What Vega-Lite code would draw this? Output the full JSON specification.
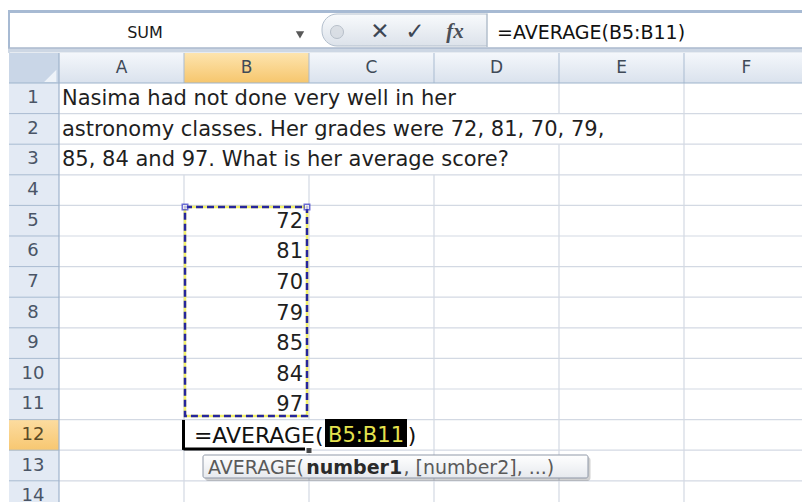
{
  "$schema": "https://vega.github.io/schema/vega-lite/v6.json",
  "width": 802,
  "height": 502,
  "autosize": {"type": "none"},
  "padding": 0,
  "background": "#ffffff",
  "config": {"view": {"stroke": null}, "axis": {"disable": true}, "legend": {"disable": true}},
  "data": {"values": [{"k": 1}]},
  "datasets": {
    "cols": [{"letter": "A", "col": 1}, {"letter": "B", "col": 2}, {"letter": "C", "col": 3}, {"letter": "D", "col": 4}, {"letter": "E", "col": 5}, {"letter": "F", "col": 6}],
    "rowsIdx": [{"row": 1}, {"row": 2}, {"row": 3}, {"row": 4}, {"row": 5}, {"row": 6}, {"row": 7}, {"row": 8}, {"row": 9}, {"row": 10}, {"row": 11}, {"row": 12}, {"row": 13}, {"row": 14}],
    "colLines": [{"b": 1.5}, {"b": 2.5}, {"b": 3.5}, {"b": 4.5}, {"b": 5.5}],
    "rowLines": [{"b": 1.5}, {"b": 2.5}, {"b": 3.5}, {"b": 4.5}, {"b": 5.5}, {"b": 6.5}, {"b": 7.5}, {"b": 8.5}, {"b": 9.5}, {"b": 10.5}, {"b": 11.5}, {"b": 12.5}, {"b": 13.5}],
    "problem": [
      {"row": 1, "text": "Nasima had not done very well in her"},
      {"row": 2, "text": "astronomy classes. Her grades were 72, 81, 70, 79,"},
      {"row": 3, "text": "85, 84 and 97. What is her average score?"}
    ],
    "grades": [
      {"cell": "B5", "row": 5, "score": 72},
      {"cell": "B6", "row": 6, "score": 81},
      {"cell": "B7", "row": 7, "score": 70},
      {"cell": "B8", "row": 8, "score": 79},
      {"cell": "B9", "row": 9, "score": 85},
      {"cell": "B10", "row": 10, "score": 84},
      {"cell": "B11", "row": 11, "score": 97}
    ],
    "overflow": [
      {"top": 0.5, "bottom": 1.5, "left": 0.5, "right": 4.5},
      {"top": 1.5, "bottom": 2.5, "left": 0.5, "right": 5.5},
      {"top": 2.5, "bottom": 3.5, "left": 0.5, "right": 4.5},
      {"top": 11.5, "bottom": 12.5, "left": 1.5, "right": 3.35}
    ]
  },
  "layer": [
    {
      "mark": {"type": "rect", "fill": "#a7bad3"},
      "encoding": {
        "x": {"datum": 0.092, "type": "quantitative", "scale": {"domain": [0.028, 6.444], "nice": false, "zero": false}},
        "x2": {"datum": 6.444},
        "y": {"datum": -1.886, "type": "quantitative", "scale": {"domain": [-2.2124, 14.1928], "nice": false, "zero": false, "reverse": true}},
        "y2": {"datum": -1.788}
      }
    },
    {
      "mark": {"type": "rect", "fill": "#a7bad3"},
      "encoding": {
        "x": {"datum": 0.092, "type": "quantitative"},
        "x2": {"datum": 0.108},
        "y": {"datum": -1.886, "type": "quantitative"},
        "y2": {"datum": -0.497}
      }
    },
    {
      "mark": {"type": "rect", "fill": "#cdd7e4"},
      "encoding": {
        "x": {"datum": 0.092, "type": "quantitative"},
        "x2": {"datum": 6.444},
        "y": {"datum": -0.66, "type": "quantitative"},
        "y2": {"datum": -0.497}
      }
    },
    {
      "mark": {"type": "rule", "stroke": "#9aacc3", "strokeWidth": 1},
      "encoding": {
        "x": {"datum": 0.092, "type": "quantitative"},
        "x2": {"datum": 6.444},
        "y": {"datum": -0.644, "type": "quantitative"}
      }
    },
    {
      "mark": {"type": "rect", "cornerRadius": 15, "stroke": "#b3bfcd", "strokeWidth": 1,
        "fill": {"gradient": "linear", "x1": 0, "y1": 0, "x2": 0, "y2": 1, "stops": [{"offset": 0, "color": "#f8fafc"}, {"offset": 1, "color": "#dce2ea"}]}},
      "encoding": {
        "x": {"datum": 2.604, "type": "quantitative"},
        "x2": {"datum": 4.028},
        "y": {"datum": -1.755, "type": "quantitative"},
        "y2": {"datum": -0.709}
      }
    },
    {
      "mark": {"type": "rect", "fill": "#ffffff"},
      "encoding": {
        "x": {"datum": 3.924, "type": "quantitative"},
        "x2": {"datum": 6.444},
        "y": {"datum": -1.771, "type": "quantitative"},
        "y2": {"datum": -0.676}
      }
    },
    {
      "mark": {"type": "rule", "stroke": "#b3bfcd", "strokeWidth": 1.5},
      "encoding": {
        "x": {"datum": 3.924, "type": "quantitative"},
        "y": {"datum": -1.771, "type": "quantitative"},
        "y2": {"datum": -0.676}
      }
    },
    {
      "mark": {"type": "point", "shape": "circle", "filled": true, "size": 170, "fill": "#d3d8df", "stroke": "#a3adb9", "strokeWidth": 1},
      "encoding": {
        "x": {"datum": 2.724, "type": "quantitative"},
        "y": {"datum": -1.167, "type": "quantitative"}
      }
    },
    {
      "mark": {"type": "point", "shape": "triangle-down", "filled": true, "size": 70, "fill": "#111111"},
      "encoding": {
        "x": {"datum": 2.428, "type": "quantitative"},
        "y": {"datum": -1.069, "type": "quantitative"}
      }
    },
    {
      "data": {"values": [{"label": "✕", "pos": 3.068}, {"label": "✓", "pos": 3.348}]},
      "mark": {"type": "text", "font": "DejaVu Sans", "fontSize": 23, "fontWeight": "bold", "color": "#3d4654", "align": "center", "baseline": "middle"},
      "encoding": {
        "x": {"field": "pos", "type": "quantitative"},
        "y": {"datum": -1.167, "type": "quantitative"},
        "text": {"field": "label"}
      }
    },
    {
      "mark": {"type": "text", "font": "Liberation Serif", "fontStyle": "italic", "fontWeight": "bold", "fontSize": 21, "color": "#4a4f57", "align": "center", "baseline": "middle"},
      "encoding": {
        "x": {"datum": 3.668, "type": "quantitative"},
        "y": {"datum": -1.167, "type": "quantitative"},
        "text": {"value": "fx"}
      }
    },
    {
      "mark": {"type": "text", "font": "DejaVu Sans", "fontSize": 16, "color": "#1a1a1a", "align": "center", "baseline": "middle"},
      "encoding": {
        "x": {"datum": 1.188, "type": "quantitative"},
        "y": {"datum": -1.134, "type": "quantitative"},
        "text": {"value": "SUM"}
      }
    },
    {
      "mark": {"type": "text", "font": "DejaVu Sans", "fontSize": 19, "color": "#111111", "align": "left", "baseline": "middle"},
      "encoding": {
        "x": {"datum": 4.004, "type": "quantitative"},
        "y": {"datum": -1.134, "type": "quantitative"},
        "text": {"value": "=AVERAGE(B5:B11)"}
      }
    },
    {
      "mark": {"type": "rect",
        "fill": {"gradient": "linear", "x1": 0, "y1": 0, "x2": 0, "y2": 1, "stops": [{"offset": 0, "color": "#f4f7fb"}, {"offset": 1, "color": "#dae2ed"}]}},
      "encoding": {
        "x": {"datum": 0.1, "type": "quantitative"},
        "x2": {"datum": 6.444},
        "y": {"datum": -0.48, "type": "quantitative"},
        "y2": {"datum": 0.5}
      }
    },
    {
      "mark": {"type": "rect",
        "fill": {"gradient": "linear", "x1": 0, "y1": 0, "x2": 0, "y2": 1, "stops": [{"offset": 0, "color": "#fde4ae"}, {"offset": 1, "color": "#f6c66d"}]}},
      "encoding": {
        "x": {"datum": 1.5, "type": "quantitative"},
        "x2": {"datum": 2.5},
        "y": {"datum": -0.48, "type": "quantitative"},
        "y2": {"datum": 0.5}
      }
    },
    {
      "mark": {"type": "rect", "fill": "#c9d6e7"},
      "encoding": {
        "x": {"datum": 0.1, "type": "quantitative"},
        "x2": {"datum": 0.5},
        "y": {"datum": -0.48, "type": "quantitative"},
        "y2": {"datum": 0.5}
      }
    },
    {
      "mark": {"type": "point", "shape": "M 1 -1 L 1 1 L -1 1 Z", "filled": true, "size": 150, "fill": "#eef3f9", "opacity": 1},
      "encoding": {
        "x": {"datum": 0.43, "type": "quantitative"},
        "y": {"datum": 0.27, "type": "quantitative"}
      }
    },
    {
      "mark": {"type": "rect", "fill": "#e3eaf4"},
      "encoding": {
        "x": {"datum": 0.1, "type": "quantitative"},
        "x2": {"datum": 0.5},
        "y": {"datum": 0.5, "type": "quantitative"},
        "y2": {"datum": 14.1928}
      }
    },
    {
      "mark": {"type": "rect",
        "fill": {"gradient": "linear", "x1": 0, "y1": 0, "x2": 0, "y2": 1, "stops": [{"offset": 0, "color": "#fcdca0"}, {"offset": 1, "color": "#f7c771"}]}},
      "encoding": {
        "x": {"datum": 0.1, "type": "quantitative"},
        "x2": {"datum": 0.5},
        "y": {"datum": 11.5, "type": "quantitative"},
        "y2": {"datum": 12.5}
      }
    },
    {
      "data": {"name": "colLines"},
      "mark": {"type": "rule", "stroke": "#d3d9e3", "strokeWidth": 1.2},
      "encoding": {
        "x": {"field": "b", "type": "quantitative"},
        "y": {"datum": 0.5, "type": "quantitative"},
        "y2": {"datum": 14.1928}
      }
    },
    {
      "data": {"name": "colLines"},
      "mark": {"type": "rule", "stroke": "#a9bbd1", "strokeWidth": 1},
      "encoding": {
        "x": {"field": "b", "type": "quantitative"},
        "y": {"datum": -0.48, "type": "quantitative"},
        "y2": {"datum": 0.5}
      }
    },
    {
      "data": {"name": "overflow"},
      "mark": {"type": "rect", "fill": "#ffffff", "xOffset": 1, "x2Offset": -1},
      "encoding": {
        "x": {"field": "left", "type": "quantitative"},
        "x2": {"field": "right"},
        "y": {"field": "top", "type": "quantitative"},
        "y2": {"field": "bottom"}
      }
    },
    {
      "data": {"name": "rowLines"},
      "mark": {"type": "rule", "stroke": "#d3d9e3", "strokeWidth": 1.2},
      "encoding": {
        "x": {"datum": 0.5, "type": "quantitative"},
        "x2": {"datum": 6.444},
        "y": {"field": "b", "type": "quantitative"}
      }
    },
    {
      "data": {"name": "rowLines"},
      "mark": {"type": "rule", "stroke": "#a9bbd1", "strokeWidth": 1},
      "encoding": {
        "x": {"datum": 0.1, "type": "quantitative"},
        "x2": {"datum": 0.5},
        "y": {"field": "b", "type": "quantitative"}
      }
    },
    {
      "mark": {"type": "rule", "stroke": "#9eb3cc", "strokeWidth": 1.2},
      "encoding": {
        "x": {"datum": 0.1, "type": "quantitative"},
        "x2": {"datum": 6.444},
        "y": {"datum": 0.5, "type": "quantitative"}
      }
    },
    {
      "mark": {"type": "rule", "stroke": "#9eb3cc", "strokeWidth": 1.2},
      "encoding": {
        "x": {"datum": 0.5, "type": "quantitative"},
        "y": {"datum": -0.48, "type": "quantitative"},
        "y2": {"datum": 14.1928}
      }
    },
    {
      "data": {"name": "cols"},
      "mark": {"type": "text", "font": "DejaVu Sans", "fontSize": 17, "color": "#3f4a58", "align": "center", "baseline": "middle"},
      "encoding": {
        "x": {"field": "col", "type": "quantitative"},
        "y": {"datum": 0.02, "type": "quantitative"},
        "text": {"field": "letter"}
      }
    },
    {
      "data": {"name": "rowsIdx"},
      "mark": {"type": "text", "font": "DejaVu Sans", "fontSize": 18, "align": "center", "baseline": "middle"},
      "encoding": {
        "x": {"datum": 0.292, "type": "quantitative"},
        "y": {"field": "row", "type": "quantitative"},
        "text": {"field": "row"},
        "color": {"condition": {"test": "datum.row === 12", "value": "#5a4a26"}, "value": "#4a5566"}
      }
    },
    {
      "data": {"name": "problem"},
      "mark": {"type": "text", "font": "DejaVu Sans", "fontSize": 21, "color": "#1f1f1f", "align": "left", "baseline": "middle", "dy": 1},
      "encoding": {
        "x": {"datum": 0.524, "type": "quantitative"},
        "y": {"field": "row", "type": "quantitative"},
        "text": {"field": "text"}
      }
    },
    {
      "data": {"name": "grades"},
      "mark": {"type": "text", "font": "DejaVu Sans", "fontSize": 21, "color": "#1f1f1f", "align": "right", "baseline": "middle", "dy": 1},
      "encoding": {
        "x": {"datum": 2.452, "type": "quantitative"},
        "y": {"field": "row", "type": "quantitative"},
        "text": {"field": "score"}
      }
    },
    {
      "mark": {"type": "rect", "fill": null, "stroke": "#f2f06a", "strokeWidth": 2.5},
      "encoding": {
        "x": {"datum": 1.508, "type": "quantitative"},
        "x2": {"datum": 2.484},
        "y": {"datum": 4.552, "type": "quantitative"},
        "y2": {"datum": 11.38}
      }
    },
    {
      "mark": {"type": "rect", "fill": null, "stroke": "#26269a", "strokeWidth": 2.5, "strokeDash": [7, 4]},
      "encoding": {
        "x": {"datum": 1.508, "type": "quantitative"},
        "x2": {"datum": 2.484},
        "y": {"datum": 4.552, "type": "quantitative"},
        "y2": {"datum": 11.38}
      }
    },
    {
      "data": {"values": [{"corner": "left", "pos": 1.508}, {"corner": "right", "pos": 2.484}]},
      "mark": {"type": "point", "shape": "square", "filled": true, "size": 30, "fill": "#ffffff", "stroke": "#3535c8", "strokeWidth": 1.5},
      "encoding": {
        "x": {"field": "pos", "type": "quantitative"},
        "y": {"datum": 4.552, "type": "quantitative"}
      }
    },
    {
      "mark": {"type": "rule", "stroke": "#000000", "strokeWidth": 3},
      "encoding": {
        "x": {"datum": 1.496, "type": "quantitative"},
        "y": {"datum": 11.51, "type": "quantitative"},
        "y2": {"datum": 12.49}
      }
    },
    {
      "mark": {"type": "rule", "stroke": "#000000", "strokeWidth": 3},
      "encoding": {
        "x": {"datum": 1.496, "type": "quantitative"},
        "x2": {"datum": 2.468},
        "y": {"datum": 12.46, "type": "quantitative"}
      }
    },
    {
      "mark": {"type": "point", "shape": "square", "filled": true, "size": 36, "fill": "#000000", "stroke": "#ffffff", "strokeWidth": 1},
      "encoding": {
        "x": {"datum": 2.5, "type": "quantitative"},
        "y": {"datum": 12.51, "type": "quantitative"}
      }
    },
    {
      "mark": {"type": "rect", "fill": "#000000"},
      "encoding": {
        "x": {"datum": 2.628, "type": "quantitative"},
        "x2": {"datum": 3.284},
        "y": {"datum": 11.48, "type": "quantitative"},
        "y2": {"datum": 12.395}
      }
    },
    {
      "mark": {"type": "text", "font": "DejaVu Sans", "fontSize": 22, "color": "#111111", "align": "right", "baseline": "middle", "dy": 1},
      "encoding": {
        "x": {"datum": 2.616, "type": "quantitative"},
        "y": {"datum": 12, "type": "quantitative"},
        "text": {"value": "=AVERAGE("}
      }
    },
    {
      "mark": {"type": "text", "font": "DejaVu Sans", "fontSize": 21, "color": "#e4e24e", "align": "center", "baseline": "middle", "dy": 1},
      "encoding": {
        "x": {"datum": 2.956, "type": "quantitative"},
        "y": {"datum": 12, "type": "quantitative"},
        "text": {"value": "B5:B11"}
      }
    },
    {
      "mark": {"type": "text", "font": "DejaVu Sans", "fontSize": 22, "color": "#111111", "align": "left", "baseline": "middle", "dy": 1},
      "encoding": {
        "x": {"datum": 3.29, "type": "quantitative"},
        "y": {"datum": 12, "type": "quantitative"},
        "text": {"value": ")"}
      }
    },
    {
      "mark": {"type": "rect", "fill": "#000000", "opacity": 0.18, "cornerRadius": 3},
      "encoding": {
        "x": {"datum": 1.668, "type": "quantitative"},
        "x2": {"datum": 4.752},
        "y": {"datum": 12.72, "type": "quantitative"},
        "y2": {"datum": 13.51}
      }
    },
    {
      "mark": {"type": "rect", "cornerRadius": 2, "stroke": "#9099a8", "strokeWidth": 1,
        "fill": {"gradient": "linear", "x1": 0, "y1": 0, "x2": 0, "y2": 1, "stops": [{"offset": 0, "color": "#ffffff"}, {"offset": 1, "color": "#e6e9ee"}]}},
      "encoding": {
        "x": {"datum": 1.652, "type": "quantitative"},
        "x2": {"datum": 4.732},
        "y": {"datum": 12.657, "type": "quantitative"},
        "y2": {"datum": 13.408}
      }
    },
    {
      "data": {"values": [
        {"part": "AVERAGE(", "pos": 1.692},
        {"part": ", [number2], ...)", "pos": 3.256}
      ]},
      "mark": {"type": "text", "font": "DejaVu Sans", "fontSize": 19, "color": "#5a5a5a", "align": "left", "baseline": "middle", "dy": 1},
      "encoding": {
        "x": {"field": "pos", "type": "quantitative"},
        "y": {"datum": 13.033, "type": "quantitative"},
        "text": {"field": "part"}
      }
    },
    {
      "mark": {"type": "text", "font": "DejaVu Sans", "fontSize": 19, "fontWeight": "bold", "color": "#2a2a2a", "align": "left", "baseline": "middle", "dy": 1},
      "encoding": {
        "x": {"datum": 2.478, "type": "quantitative"},
        "y": {"datum": 13.033, "type": "quantitative"},
        "text": {"value": "number1"}
      }
    }
  ]
}
